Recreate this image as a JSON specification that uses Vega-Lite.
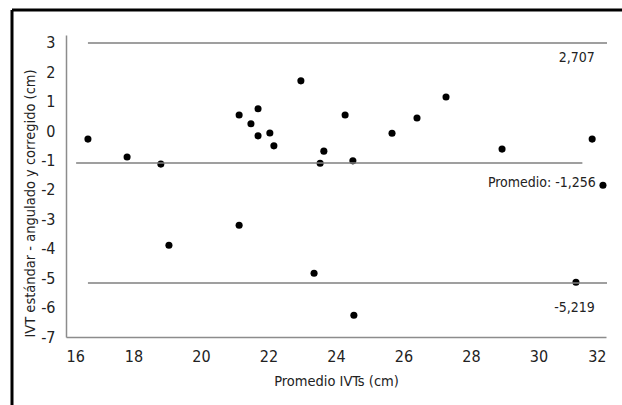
{
  "$schema": "https://vega.github.io/schema/vega-lite/v6.json",
  "width": 540,
  "height": 302,
  "autosize": "none",
  "padding": {"left": 66, "top": 35, "right": 16, "bottom": 68},
  "background": "white",
  "config": {
    "view": {"stroke": null},
    "font": "DejaVu Sans Condensed, serif",
    "axis": {
      "grid": false,
      "ticks": false,
      "domainColor": "#8c8c8c",
      "domainWidth": 1.5,
      "labelFont": "DejaVu Sans Condensed, serif",
      "titleFont": "DejaVu Sans Condensed, serif",
      "labelFontSize": 16,
      "titleFontSize": 14.5,
      "labelColor": "#222",
      "titleColor": "#222",
      "titleFontWeight": "normal",
      "labelOverlap": false
    },
    "axisY": {"titleAnchor": "start"}
  },
  "layer": [
    {
      "data": {"values": [
        {"promedio": 16.65, "diferencia": -0.27},
        {"promedio": 17.81, "diferencia": -0.88},
        {"promedio": 18.81, "diferencia": -1.12},
        {"promedio": 19.05, "diferencia": -3.88},
        {"promedio": 21.13, "diferencia": 0.55},
        {"promedio": 21.13, "diferencia": -3.2},
        {"promedio": 21.48, "diferencia": 0.25},
        {"promedio": 21.69, "diferencia": 0.76},
        {"promedio": 21.69, "diferencia": -0.16},
        {"promedio": 22.04, "diferencia": -0.06},
        {"promedio": 22.16, "diferencia": -0.5},
        {"promedio": 22.96, "diferencia": 1.71},
        {"promedio": 23.35, "diferencia": -4.83},
        {"promedio": 23.53, "diferencia": -1.09},
        {"promedio": 23.64, "diferencia": -0.68},
        {"promedio": 24.27, "diferencia": 0.55},
        {"promedio": 24.5, "diferencia": -1.01},
        {"promedio": 24.53, "diferencia": -6.26},
        {"promedio": 25.66, "diferencia": -0.07},
        {"promedio": 26.4, "diferencia": 0.45},
        {"promedio": 27.26, "diferencia": 1.16},
        {"promedio": 28.92, "diferencia": -0.61},
        {"promedio": 31.11, "diferencia": -5.14},
        {"promedio": 31.59, "diferencia": -0.27},
        {"promedio": 31.91, "diferencia": -1.84}
      ]},
      "mark": {"type": "circle", "color": "black", "opacity": 1, "size": 50},
      "encoding": {
        "x": {
          "field": "promedio", "type": "quantitative", "title": "Promedio IVTs (cm)",
          "scale": {"domain": [16, 32], "nice": false, "zero": false},
          "axis": {"values": [16, 18, 20, 22, 24, 26, 28, 30, 32], "labelPadding": 11, "titlePadding": 10}
        },
        "y": {
          "field": "diferencia", "type": "quantitative", "title": "IVT estándar - angulado y corregido (cm)",
          "scale": {"domain": [-7, 3.27], "nice": false, "zero": false},
          "axis": {"values": [-7, -6, -5, -4, -3, -2, -1, 0, 1, 2, 3], "labelExpr": "'' + datum.value", "labelPadding": 11, "titlePadding": 3}
        }
      }
    },
    {
      "data": {"values": [
        {"x": 14.4, "x2": 32.6, "y": 4.12, "y2": 4.12},
        {"x": 14.4, "x2": 14.4, "y": 4.12, "y2": -9.5}
      ]},
      "mark": {"type": "rule", "color": "black", "strokeWidth": 3},
      "encoding": {
        "x": {"field": "x", "type": "quantitative", "title": "Promedio IVTs (cm)",
          "axis": {"values": [16, 18, 20, 22, 24, 26, 28, 30, 32], "labelPadding": 11, "titlePadding": 10}},
        "x2": {"field": "x2"},
        "y": {"field": "y", "type": "quantitative", "title": "IVT estándar - angulado y corregido (cm)",
          "axis": {"values": [-7, -6, -5, -4, -3, -2, -1, 0, 1, 2, 3], "labelExpr": "'' + datum.value", "labelPadding": 11, "titlePadding": 3}},
        "y2": {"field": "y2"}
      }
    },
    {
      "data": {"values": [
        {"y": 3.0, "x": 16.65, "x2": 32.03},
        {"y": -1.08, "x": 16.3, "x2": 31.3},
        {"y": -5.16, "x": 16.65, "x2": 32.03}
      ]},
      "mark": {"type": "rule", "color": "#7f7f7f", "strokeWidth": 1.5},
      "encoding": {
        "x": {"field": "x", "type": "quantitative", "title": "Promedio IVTs (cm)",
          "axis": {"values": [16, 18, 20, 22, 24, 26, 28, 30, 32], "labelPadding": 11, "titlePadding": 10}},
        "x2": {"field": "x2"},
        "y": {"field": "y", "type": "quantitative", "title": "IVT estándar - angulado y corregido (cm)",
          "axis": {"values": [-7, -6, -5, -4, -3, -2, -1, 0, 1, 2, 3], "labelExpr": "'' + datum.value", "labelPadding": 11, "titlePadding": 3}}
      }
    },
    {
      "data": {"values": [
        {"label": "2,707", "x": 31.67, "y": 2.5},
        {"label": "Promedio: -1,256", "x": 31.7, "y": -1.76},
        {"label": "-5,219", "x": 31.67, "y": -6.02}
      ]},
      "mark": {"type": "text", "align": "right", "baseline": "middle", "fontSize": 14, "color": "#222", "font": "DejaVu Sans Condensed, serif"},
      "encoding": {
        "x": {"field": "x", "type": "quantitative", "title": "Promedio IVTs (cm)",
          "axis": {"values": [16, 18, 20, 22, 24, 26, 28, 30, 32], "labelPadding": 11, "titlePadding": 10}},
        "y": {"field": "y", "type": "quantitative", "title": "IVT estándar - angulado y corregido (cm)",
          "axis": {"values": [-7, -6, -5, -4, -3, -2, -1, 0, 1, 2, 3], "labelExpr": "'' + datum.value", "labelPadding": 11, "titlePadding": 3}},
        "text": {"field": "label"}
      }
    }
  ]
}
